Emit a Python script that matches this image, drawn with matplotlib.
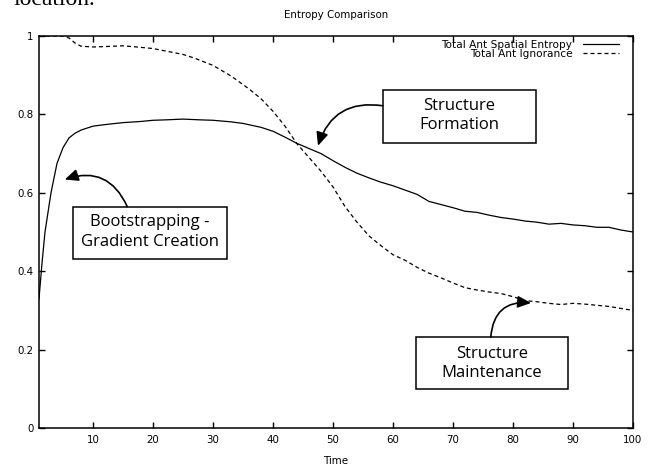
import numpy as np
import matplotlib
matplotlib.use("Agg")
import matplotlib.pyplot as plt
from matplotlib.patches import Rectangle
from matplotlib import font_manager

# values
time_entropy = [1, 1.5, 2, 3, 4, 5, 6, 7, 8, 10, 12, 15, 18, 20, 22, 25, 28, 30, 33, 35,
                38, 40, 42, 44, 46, 48, 50, 52, 54, 56, 58, 60, 62, 64, 66, 68, 70, 72,
                74, 76, 78, 80, 82, 84, 86, 88, 90, 92, 94, 96, 98, 100]
spatial_entropy = [0.33, 0.42, 0.50, 0.60, 0.675, 0.715, 0.74, 0.752, 0.76, 0.77, 0.774,
                   0.779, 0.782, 0.785, 0.786, 0.788, 0.786, 0.785, 0.781, 0.777, 0.767,
                   0.757, 0.742, 0.726, 0.713, 0.700, 0.682, 0.665, 0.650, 0.638, 0.627,
                   0.618, 0.607, 0.596, 0.578, 0.570, 0.562, 0.553, 0.550, 0.543, 0.537,
                   0.533, 0.528, 0.525, 0.520, 0.522, 0.518, 0.516, 0.512, 0.512, 0.505,
                   0.500]

time_ignorance = [1, 3, 5, 6, 7, 8, 10, 12, 15, 18, 20, 22, 25, 27, 30, 33, 36, 38, 40, 42,
                  44, 46, 48, 50, 52, 54, 56, 58, 60, 62, 64, 66, 68, 70, 72, 74, 76, 78,
                  80, 82, 84, 86, 88, 90, 92, 94, 96, 98, 100]
ignorance = [1.0, 1.0, 1.0, 0.995, 0.982, 0.974, 0.972, 0.973, 0.975, 0.971, 0.968, 0.962,
             0.953, 0.943, 0.925, 0.898, 0.865, 0.84, 0.808, 0.77, 0.725, 0.69, 0.655,
             0.615, 0.565, 0.525, 0.49, 0.465, 0.442, 0.428, 0.41, 0.395, 0.383, 0.37,
             0.358, 0.352, 0.347, 0.343, 0.335, 0.325, 0.322, 0.318, 0.315, 0.318, 0.316,
             0.313, 0.31, 0.305, 0.30]

x_ticks = [10, 20, 30, 40, 50, 60, 70, 80, 90, 100]
y_ticks = [0, 0.2, 0.4, 0.6, 0.8, 1]
y_ticklabels = ["0", "0.2", "0.4", "0.6", "0.8", "1"]

plt.rcParams["font.family"] = "DejaVu Sans"

# pick a humanist sans for the callout boxes
installed = {f.name for f in font_manager.fontManager.ttflist}
box_font = next((f for f in ["Open Sans", "Lato", "Noto Sans", "Roboto"] if f in installed),
                "DejaVu Sans")

fig = plt.figure(figsize=(6.6, 4.68), dpi=100)
ax = fig.add_axes([39 / 660, 1 - 428 / 468, 594 / 660, 392 / 468])

ax.plot(time_entropy, spatial_entropy, color="black", lw=0.9,
        label="Total Ant Spatial Entropy")
ax.plot(time_ignorance, ignorance, color="black", lw=0.9, linestyle=(0, (3.2, 2.4)),
        label="Total Ant Ignorance")

ax.set_xlim(1, 100)
ax.set_ylim(0, 1)
ax.set_xticks(x_ticks)
ax.set_yticks(y_ticks)
ax.set_yticklabels(y_ticklabels)
ax.tick_params(axis="both", which="both", direction="in", top=True, right=True,
               length=4.5, width=1.0, labelsize=7.4)
ax.tick_params(axis="x", pad=5)
ax.tick_params(axis="y", pad=4)
for sp in ax.spines.values():
    sp.set_linewidth(1.1)

ax.set_xlabel("Time", fontsize=7.4, labelpad=8)
fig.text(336 / 660, 1 - 15 / 468, "Entropy Comparison", ha="center", va="center",
         fontsize=7.4)

ax.legend(loc="upper right", bbox_to_anchor=(1 - 14 / 594, 1 - 4 / 392), frameon=False,
          markerfirst=False, fontsize=7.6, handlelength=3.4, handletextpad=1.0,
          labelspacing=-0.12, borderaxespad=0, borderpad=0)

# annotation boxes: (x0, x1, y0, y1), text centre, arrow start, arrow tip, curvature
boxes = [
    ((58.3, 83.8, 0.728, 0.863), (71.1, 0.798), "Structure\nFormation",
     (58.3, 0.822), (47.5, 0.720), 0.42),
    ((6.7, 32.3, 0.430, 0.565), (19.5, 0.500), "Bootstrapping -\nGradient Creation",
     (15.7, 0.565), (5.3, 0.634), 0.45),
    ((63.8, 89.2, 0.099, 0.232), (76.5, 0.165), "Structure\nMaintenance",
     (76.3, 0.232), (83.0, 0.319), -0.5),
]
for (x0, x1, y0, y1), (tx, ty), label, start, tip, rad in boxes:
    ax.add_patch(Rectangle((x0, y0), x1 - x0, y1 - y0, facecolor="white",
                           edgecolor="black", lw=1.1, zorder=4))
    ax.text(tx, ty, label, ha="center", va="center", fontsize=12, family=box_font,
            linespacing=1.25, zorder=5)
    ax.annotate("", xy=tip, xytext=start,
                arrowprops=dict(arrowstyle="-|>,head_length=0.8,head_width=0.36",
                                mutation_scale=10, connectionstyle=f"arc3,rad={rad}",
                                lw=1.2, color="black", shrinkA=0, shrinkB=0),
                zorder=5)

# clipped line of the surrounding page text
fig.text(13 / 660, 1 - 5 / 468, "location.", family="Liberation Serif", fontsize=17,
         ha="left", va="baseline")

fig.savefig("out.png", dpi=100)
